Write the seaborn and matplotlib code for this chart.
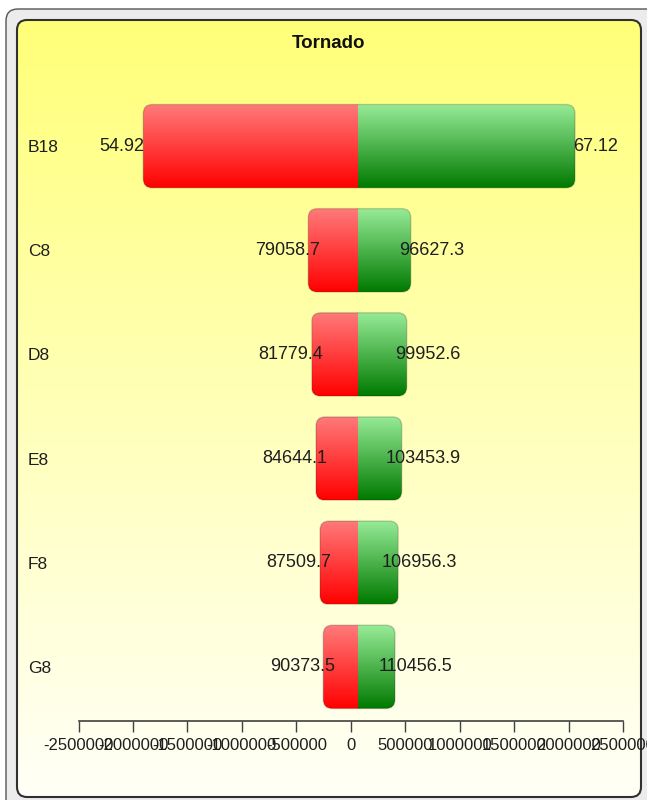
import matplotlib
matplotlib.use("Agg")
import matplotlib.pyplot as plt
import numpy as np
import pandas as pd
import seaborn as sns
from matplotlib.colors import LinearSegmentedColormap
from matplotlib.patches import FancyBboxPatch

sns.set_style("white")
plt.rcParams["font.family"] = ["Liberation Sans", "DejaVu Sans"]

# data
variables = ["B18", "C8", "D8", "E8", "F8", "G8"]
low_labels = ["54.92", "79058.7", "81779.4", "84644.1", "87509.7", "90373.5"]
high_labels = ["67.12", "96627.3", "99952.6", "103453.9", "106956.3", "110456.5"]
base_value = 70000
low_ends = [-1905000, -390000, -359000, -319000, -282000, -252000]
high_ends = [2059000, 551000, 514000, 468000, 437000, 406000]
tick_values = [-2500000, -2000000, -1500000, -1000000, -500000, 0,
               500000, 1000000, 1500000, 2000000, 2500000]

df = pd.DataFrame({
    "variable": variables,
    "low": np.array(low_ends) - base_value,
    "high": np.array(high_ends) - base_value,
})

W, H = 647, 800
fig = plt.figure(figsize=(W / 100, H / 100), dpi=100)
fig.patch.set_facecolor("white")

# background layer in pixel coordinates
bg = fig.add_axes([0, 0, 1, 1])
bg.set_xlim(0, W)
bg.set_ylim(H, 0)
bg.set_autoscale_on(False)
bg.axis("off")

outer = FancyBboxPatch((6, 9), 660, 810, boxstyle="round,pad=0,rounding_size=12",
                       fc="#ececec", ec="#555555", lw=1.0, zorder=0)
bg.add_patch(outer)
panel = FancyBboxPatch((17, 20), 624, 777, boxstyle="round,pad=0,rounding_size=10",
                       fc="none", ec="#303030", lw=1.5, zorder=4)
bg.add_patch(panel)
panel_cmap = LinearSegmentedColormap.from_list("panel", ["#ffff78", "#ffffb8", "#fffff8"])
grad = np.linspace(0, 1, 256).reshape(-1, 1)
im = bg.imshow(grad, cmap=panel_cmap, extent=(17, 641, 797, 20), origin="upper",
               aspect="auto", zorder=1)
im.set_clip_path(panel)

# main chart
ax = fig.add_axes([78.5 / W, 79 / H, (623 - 78.5) / W, 629 / H])
ax.patch.set_alpha(0)

sns.barplot(data=df, y="variable", x="low", order=variables, orient="h",
            color="red", width=0.8, errorbar=None, ax=ax)
sns.barplot(data=df, y="variable", x="high", order=variables, orient="h",
            color="green", width=0.8, errorbar=None, ax=ax)

ax.set_xlim(-2500000, 2500000)
ax.set_ylim(5.52, -0.52)

red_cmap = LinearSegmentedColormap.from_list("red", ["#ff7b7b", "#ff0000"])
green_cmap = LinearSegmentedColormap.from_list("green", ["#98ec98", "#007a00"])

n = len(variables)
bars = list(ax.patches)
low_bars, high_bars = bars[:n], bars[n:2 * n]

to_px = lambda pt: bg.transData.inverted().transform(ax.transData.transform(pt))

for i in range(n):
    lo, hi = low_bars[i], high_bars[i]
    lo.set_x(lo.get_x() + base_value)
    hi.set_x(hi.get_x() + base_value)
    lo.set_visible(False)
    hi.set_visible(False)
    x_lo = min(lo.get_x(), lo.get_x() + lo.get_width())
    x_mid = lo.get_x()
    x_hi = max(hi.get_x(), hi.get_x() + hi.get_width())
    y_top = lo.get_y()
    y_bot = lo.get_y() + lo.get_height()
    (px0, py0) = to_px((x_lo, y_top))
    (pxm, _) = to_px((x_mid, y_top))
    (px1, py1) = to_px((x_hi, y_bot))
    top, bot = min(py0, py1), max(py0, py1)
    shape = FancyBboxPatch((px0, top), px1 - px0, bot - top,
                           boxstyle="round,pad=0,rounding_size=9",
                           fc="none", ec=(0, 0, 0, 0.18), lw=1.0, zorder=3)
    bg.add_patch(shape)
    r = bg.imshow(grad, cmap=red_cmap, extent=(px0, pxm, bot, top),
                  origin="upper", aspect="auto", zorder=2)
    r.set_clip_path(shape)
    g = bg.imshow(grad, cmap=green_cmap, extent=(pxm, px1, bot, top),
                  origin="upper", aspect="auto", zorder=2)
    g.set_clip_path(shape)

    ax.annotate(low_labels[i], xy=(low_ends[i], i), xytext=(-21, 0),
                textcoords="offset pixels", ha="center", va="center",
                fontsize=13, color="#1e1e1e")
    ax.annotate(high_labels[i], xy=(high_ends[i], i), xytext=(21, 0),
                textcoords="offset pixels", ha="center", va="center",
                fontsize=13, color="#1e1e1e")

bg.set_xlim(0, W)
bg.set_ylim(H, 0)

ax.set_yticks(range(n))
ax.set_yticklabels(variables, fontsize=12.5, color="#1e1e1e")
for lbl in ax.get_yticklabels():
    lbl.set_horizontalalignment("left")
ax.tick_params(axis="y", left=False, length=0, pad=36.4)

ax.set_xticks(tick_values)
ax.set_xticklabels([str(v) for v in tick_values])
ax.tick_params(axis="x", bottom=True, direction="out", length=8, width=1,
               color="#404040", pad=4, labelsize=12, labelcolor="#1e1e1e")
ax.set_xlabel("")
ax.set_ylabel("")
for side in ["top", "right", "left"]:
    ax.spines[side].set_visible(False)
ax.spines["bottom"].set_color("#404040")
ax.spines["bottom"].set_linewidth(1.2)

fig.text(329 / W, 1 - 44 / H, "Tornado", ha="center", va="center",
         fontsize=13.5, fontweight="bold", color="#111111")

fig.savefig("out.png", dpi=100)
